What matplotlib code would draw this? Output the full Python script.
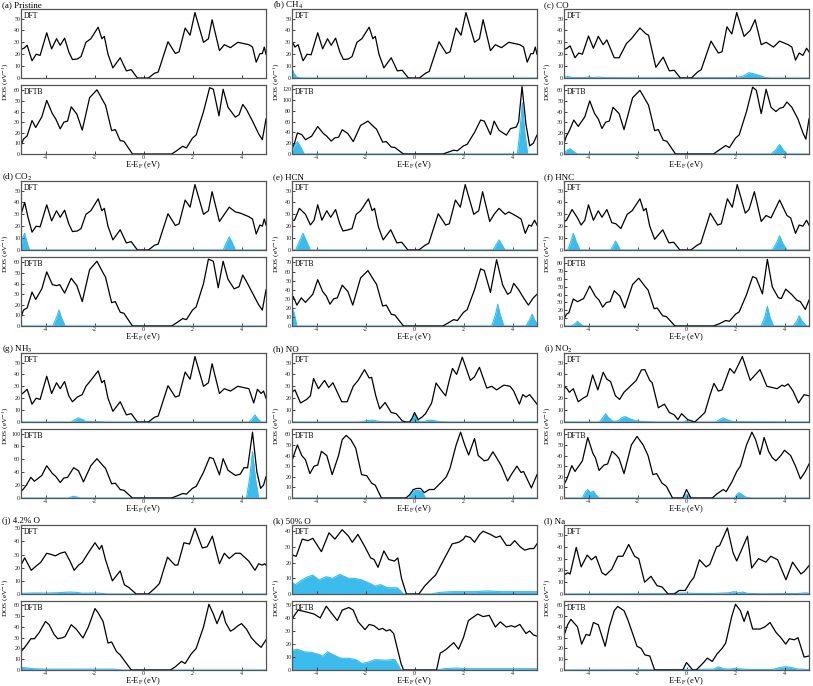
import numpy as np
import matplotlib.pyplot as plt

plt.rcParams['font.family'] = ['Liberation Serif', 'DejaVu Serif']
plt.rcParams['mathtext.fontset'] = 'stix'
plt.rcParams['axes.unicode_minus'] = False

BLUE = '#3cbcec'

# ---- DOS curves: (energy eV, DOS eV^-1) ----
a_dft = [(-5,24),(-4.88,25),(-4.75,27.5),(-4.55,14.5),(-4.38,20),(-4.22,19),(-3.95,38),(-3.75,24.5),(-3.55,33),(-3.4,27.5),(-3.22,33.5),(-3.05,22),(-2.9,15.5),(-2.7,16),(-2.55,18),(-2.35,30),(-2.15,33),(-1.85,42.7),(-1.7,33),(-1.6,35),(-1.45,20),(-1.25,8.5),(-0.95,17),(-0.7,6),(-0.5,7),(-0.25,0),(0.2,0),(0.45,4),(0.6,5),(1.0,30.5),(1.3,20.6),(1.45,22),(1.7,42),(1.9,36),(2.1,55),(2.45,30),(2.65,33),(2.8,49),(3.1,23),(3.3,28),(3.55,25.5),(3.85,30),(4.3,28),(4.45,26),(4.6,13.3),(4.75,20.5),(4.85,20.5),(4.93,26),(5.0,20)]
a_dftb = [(-5,8),(-4.9,14),(-4.75,17),(-4.55,31.5),(-4.4,25),(-4.15,35),(-3.95,50.5),(-3.72,38),(-3.58,33),(-3.4,23.7),(-3.25,30),(-3.1,31),(-2.95,44.5),(-2.72,37.5),(-2.5,22.5),(-2.2,53),(-1.9,60.5),(-1.65,50),(-1.55,46),(-1.3,22),(-1.15,23),(-0.95,12.6),(-0.8,12),(-0.45,0),(1.15,0),(1.35,3),(1.6,7.3),(1.75,5.7),(2.0,15),(2.15,18),(2.45,40),(2.7,62.5),(2.85,61),(3.08,36),(3.25,61),(3.45,44),(3.75,34.7),(3.9,37),(4.05,46.7),(4.2,42),(4.45,31),(4.7,19),(4.85,13.5),(5.0,33)]

b_dft = [(-5,31),(-4.88,26),(-4.75,28),(-4.55,14.5),(-4.38,20),(-4.22,19.5),(-3.95,38),(-3.75,24.5),(-3.55,33),(-3.4,27.5),(-3.22,33.5),(-3.05,22),(-2.9,15.5),(-2.7,16),(-2.55,18),(-2.35,30),(-2.15,33),(-1.85,42.7),(-1.7,33),(-1.6,35),(-1.45,20),(-1.25,8.5),(-0.95,17),(-0.7,6),(-0.5,6.5),(-0.25,0),(0.2,0),(0.45,4),(0.6,5.5),(1.0,30.5),(1.3,20.6),(1.45,22),(1.7,42),(1.9,36),(2.1,55),(2.45,30),(2.65,33),(2.8,49),(3.1,23),(3.3,28),(3.55,25.5),(3.85,30),(4.3,28),(4.45,26),(4.6,13.3),(4.75,20.5),(4.85,20.5),(4.93,26),(5.0,20)]
b_dft_ads = [(-5,8),(-4.92,4),(-4.8,0.5),(-4.6,0),(5,0)]
b_dftb = [(-5,10),(-4.9,20),(-4.78,39),(-4.6,36),(-4.45,26.5),(-4.2,33),(-3.95,51),(-3.72,38),(-3.58,33),(-3.4,24),(-3.25,30),(-3.1,31),(-2.95,45),(-2.72,38),(-2.5,23),(-2.2,53),(-1.9,61),(-1.65,50),(-1.55,46),(-1.3,22),(-1.15,23),(-0.95,13),(-0.8,12),(-0.45,0),(1.15,0),(1.35,3),(1.6,7),(1.75,6),(2.0,15),(2.15,18),(2.45,40),(2.7,63),(2.85,61),(3.1,36),(3.25,61),(3.45,44),(3.75,35),(3.92,47),(4.15,50),(4.25,60),(4.39,125),(4.55,55),(4.7,15),(4.85,20),(5.0,35)]
b_dftb_ads = [(-5,5),(-4.9,15),(-4.78,23),(-4.65,13),(-4.5,0),(4.2,0),(4.3,40),(4.4,95),(4.5,40),(4.62,0),(5,0)]

c_dft = [(-5,24),(-4.88,25),(-4.75,27),(-4.55,17),(-4.4,21),(-4.25,20),(-4.0,35.3),(-3.8,25),(-3.6,35),(-3.4,28),(-3.25,32),(-2.95,17),(-2.75,17),(-2.45,29),(-2.25,33),(-1.9,42),(-1.65,37),(-1.55,36),(-1.25,9),(-0.95,17.5),(-0.7,6),(-0.5,6.5),(-0.25,0),(0.2,0),(0.45,5),(0.6,7),(1.0,31),(1.3,21),(1.45,22),(1.65,43),(1.85,37),(2.05,55),(2.35,35),(2.6,40),(2.8,49),(3.05,28),(3.25,30),(3.55,26),(3.8,31),(4.15,28),(4.3,26),(4.45,15),(4.6,21),(4.75,19),(4.9,25),(5.0,22)]
c_dft_ads = [(-5,0.5),(-4.85,1.2),(-4.6,0.3),(-4.2,0.3),(-4.0,0.8),(-3.8,0.3),(-3.6,0.8),(-3.3,0.3),(-2.0,0.2),(2.0,0.3),(2.3,1.5),(2.55,4.5),(2.75,3.5),(3.0,2),(3.2,0.5),(3.4,0),(5,0)]
c_dftb = [(-5,10),(-4.9,17),(-4.78,22),(-4.6,32),(-4.42,26),(-4.15,35),(-3.95,50),(-3.75,38),(-3.6,33),(-3.45,24),(-3.3,30),(-3.15,31),(-3.0,44),(-2.75,38),(-2.55,23),(-2.2,53),(-1.9,60),(-1.65,50),(-1.55,46),(-1.3,22),(-1.15,23),(-0.95,13),(-0.8,12),(-0.45,0),(1.1,0),(1.35,4),(1.6,8),(1.75,6),(2.0,15),(2.15,18),(2.45,40),(2.7,63),(2.85,60),(3.05,38),(3.25,61),(3.45,44),(3.65,40),(3.8,43),(3.95,44),(4.1,49),(4.3,44),(4.55,33),(4.75,20),(4.87,14),(5.0,33)]
c_dftb_ads = [(-5,1),(-4.85,4),(-4.75,5),(-4.6,2),(-4.45,0),(3.45,0),(3.65,4),(3.8,9),(3.95,4),(4.1,0),(5,0)]

d_dft = [(-5,30),(-4.85,40),(-4.72,28),(-4.55,15),(-4.38,20),(-4.22,19.5),(-3.95,38),(-3.75,24.5),(-3.55,33),(-3.4,27.5),(-3.22,33.5),(-3.05,22),(-2.9,15.5),(-2.7,16),(-2.55,18),(-2.35,30),(-2.15,33),(-1.85,43),(-1.7,33),(-1.6,35),(-1.45,20),(-1.25,8.5),(-0.95,17),(-0.7,6),(-0.5,7),(-0.25,0),(0.2,0),(0.45,4),(0.6,5),(1.0,30.5),(1.3,20.6),(1.45,22),(1.7,42),(1.9,36),(2.1,55),(2.45,30),(2.65,33),(2.8,49),(3.1,24),(3.3,30),(3.5,36),(3.75,32),(3.95,31),(4.3,28),(4.45,26),(4.6,13.5),(4.75,21),(4.85,20),(4.93,26),(5.0,21)]
d_dft_ads = [(-5,3),(-4.92,11),(-4.85,14),(-4.75,6),(-4.65,0),(3.25,0),(3.4,7),(3.5,11),(3.6,7),(3.75,0),(5,0)]
d_dftb = [(-5,8),(-4.9,15),(-4.75,17),(-4.55,32),(-4.4,25),(-4.15,35),(-3.95,51),(-3.72,39),(-3.55,38),(-3.42,39),(-3.22,31),(-2.95,45),(-2.72,38),(-2.5,23),(-2.2,53),(-1.9,61),(-1.65,50),(-1.55,46),(-1.3,22),(-1.15,23),(-0.95,13),(-0.8,12),(-0.45,0),(1.15,0),(1.35,3),(1.6,7),(1.75,6),(2.0,15),(2.15,18),(2.45,40),(2.65,63),(2.85,61),(3.05,36),(3.25,61),(3.45,44),(3.7,35),(3.9,37),(4.05,48),(4.2,42),(4.45,31),(4.7,20),(4.85,15),(5.0,34)]
d_dftb_ads = [(-5,0),(-3.7,0),(-3.55,8),(-3.45,15),(-3.35,8),(-3.2,0),(5,0)]

e_dft = [(-5,25),(-4.9,25),(-4.7,35),(-4.45,30),(-4.25,21),(-4.1,25),(-3.95,38),(-3.78,25),(-3.58,33),(-3.42,27.5),(-3.22,34),(-3.05,22),(-2.92,16),(-2.7,17),(-2.55,18),(-2.38,30),(-2.2,33),(-1.88,43),(-1.73,33),(-1.63,35),(-1.48,20),(-1.28,8.5),(-0.97,17),(-0.72,6),(-0.52,6.5),(-0.27,0),(0.18,0),(0.43,4),(0.58,5.5),(0.97,30.5),(1.27,21),(1.42,22),(1.67,42),(1.87,36),(2.07,55),(2.42,30),(2.62,33),(2.78,49),(3.07,24),(3.25,30),(3.45,35),(3.7,30),(3.85,32),(4.2,28),(4.35,26),(4.52,14),(4.67,21),(4.77,20),(4.9,25),(5.0,21)]
e_dft_ads = [(-5,0),(-4.85,0),(-4.7,7),(-4.55,14),(-4.4,7),(-4.25,0),(3.2,0),(3.35,5),(3.45,8.5),(3.55,5),(3.7,0),(5,0)]
e_dftb = [(-5,28),(-4.95,32.5),(-4.8,23),(-4.62,31),(-4.45,26),(-4.15,35),(-3.95,51),(-3.75,38),(-3.6,33),(-3.45,24),(-3.3,30),(-3.15,31),(-2.95,45),(-2.72,38),(-2.52,23),(-2.2,53),(-1.9,61),(-1.65,50),(-1.55,46),(-1.3,22),(-1.15,23),(-0.95,13),(-0.8,12),(-0.45,0),(1.15,0),(1.35,3),(1.6,7),(1.75,6),(2.0,15),(2.15,18),(2.45,40),(2.7,63),(2.85,61),(3.1,37),(3.35,73),(3.6,45),(3.8,35),(3.92,37),(4.05,47),(4.25,40),(4.45,31),(4.65,23),(4.85,31),(5.0,35)]
e_dftb_ads = [(-5,20),(-4.92,15),(-4.8,0),(3.15,0),(3.3,12),(3.4,24),(3.5,12),(3.65,0),(4.55,0),(4.7,7),(4.8,13),(4.9,7),(5.0,2)]

f_dft = [(-5,24),(-4.9,25),(-4.67,34),(-4.45,27),(-4.3,21),(-4.15,25),(-4.0,38),(-3.8,25),(-3.6,33),(-3.45,27.5),(-3.25,34),(-3.05,23),(-2.88,22),(-2.68,18),(-2.42,30),(-2.22,33),(-1.9,43),(-1.75,33),(-1.65,35),(-1.5,20),(-1.3,9),(-0.97,17),(-0.72,6),(-0.52,6.5),(-0.27,0),(0.18,0),(0.43,4),(0.58,5.5),(0.97,31),(1.27,21),(1.42,22),(1.67,43),(1.87,36),(2.07,55),(2.4,31),(2.55,34),(2.77,49),(3.05,24),(3.25,29),(3.45,27),(3.8,42),(4.1,29),(4.25,27),(4.45,14),(4.6,21),(4.75,20),(4.9,25),(5.0,21)]
f_dft_ads = [(-5,0),(-4.85,0),(-4.72,7),(-4.62,14),(-4.5,7),(-4.35,0),(-3.1,0),(-2.98,4),(-2.9,7.5),(-2.8,4),(-2.7,0),(3.5,0),(3.68,6),(3.8,12),(3.92,6),(4.1,0),(5,0)]
f_dftb = [(-5,9),(-4.9,15),(-4.8,17),(-4.62,34.5),(-4.45,31),(-4.2,35),(-3.95,51),(-3.72,38),(-3.57,33),(-3.42,24),(-3.27,30),(-3.12,31),(-2.95,45),(-2.72,38),(-2.52,23),(-2.2,53),(-1.95,61),(-1.68,50),(-1.57,46),(-1.32,22),(-1.2,23),(-0.97,13),(-0.82,12),(-0.47,0),(1.1,0),(1.35,3),(1.6,7),(1.75,6),(2.0,15),(2.15,18),(2.45,40),(2.7,63),(2.85,61),(3.1,41),(3.3,85),(3.5,50),(3.75,36),(3.87,35),(4.05,47),(4.3,40),(4.5,33),(4.65,31),(4.85,21),(5.0,33)]
f_dftb_ads = [(-5,0),(-4.7,0),(-4.55,3),(-4.45,6),(-4.35,3),(-4.2,0),(3.05,0),(3.2,12),(3.3,25),(3.4,12),(3.55,0),(4.35,0),(4.5,6),(4.6,13),(4.72,6),(4.9,0),(5,0)]

g_dft = [(-5,23),(-4.88,25),(-4.75,27.5),(-4.55,15),(-4.38,20),(-4.22,19),(-3.95,38.5),(-3.75,24),(-3.55,33),(-3.4,28),(-3.22,34),(-3.05,22),(-2.9,17),(-2.7,21),(-2.5,23),(-2.35,30),(-2.15,35),(-1.85,43),(-1.7,33),(-1.6,35),(-1.45,20),(-1.25,9),(-0.95,17),(-0.7,6),(-0.5,7),(-0.25,0),(0.2,0),(0.45,4),(0.6,5),(1.0,30.5),(1.3,21),(1.45,22),(1.7,42),(1.9,36),(2.1,55),(2.45,30),(2.65,33),(2.8,49),(3.1,24),(3.3,28),(3.55,26),(3.85,30),(4.3,28),(4.4,22),(4.5,16),(4.65,27.5),(4.8,24),(4.9,26),(5.0,20)]
g_dft_ads = [(-5,0),(-2.95,0),(-2.8,2),(-2.65,3.5),(-2.5,2),(-2.35,0.5),(-1.8,0.3),(-1.5,0),(4.3,0),(4.45,3),(4.55,6),(4.65,3),(4.8,0),(5,0)]
g_dftb = [(-5,10),(-4.9,14),(-4.78,20),(-4.6,32),(-4.45,26),(-4.15,35),(-3.95,50),(-3.72,38),(-3.57,33),(-3.4,24),(-3.25,31),(-3.1,32),(-2.85,47),(-2.65,42),(-2.45,25),(-2.15,50),(-1.9,61),(-1.65,50),(-1.55,46),(-1.3,22),(-1.15,23),(-0.95,13),(-0.8,12),(-0.45,0),(1.15,0),(1.35,3),(1.6,7),(1.75,6),(2.0,15),(2.15,18),(2.45,40),(2.7,63),(2.85,61),(3.1,36),(3.25,61),(3.45,43),(3.75,35),(3.95,37),(4.1,47),(4.25,47),(4.45,102),(4.63,40),(4.78,15),(4.9,20),(5.0,33)]
g_dftb_ads = [(-5,0),(-3.05,0),(-2.9,2.5),(-2.8,2.5),(-2.6,0),(4.2,0),(4.33,30),(4.45,72),(4.57,30),(4.7,0),(5,0)]

h_dft = [(-5,25),(-4.88,27),(-4.65,16),(-4.4,19),(-4.25,22),(-4.12,36.5),(-3.92,28),(-3.67,35),(-3.5,29),(-3.33,33),(-2.97,17),(-2.75,17),(-2.5,30),(-2.3,35),(-2.04,44),(-1.85,37),(-1.75,37.5),(-1.58,22),(-1.42,11),(-1.2,16.4),(-0.95,8),(-0.75,7),(-0.5,1),(-0.35,0),(-0.2,0),(-0.1,3),(0.0,8),(0.15,2),(0.3,4),(0.45,7),(0.7,16),(0.88,32.8),(1.08,27),(1.27,22),(1.42,35),(1.55,45),(1.72,40),(1.95,54.5),(2.28,35),(2.45,38),(2.65,46),(2.95,28.5),(3.15,30),(3.35,27),(3.65,31),(3.9,30),(4.05,26),(4.28,15),(4.42,23),(4.55,21),(4.7,23),(5.0,15)]
h_dft_ads = [(-5,0),(-2.2,0),(-1.9,1.2),(-1.7,1.5),(-1.4,0.3),(-0.2,0),(-0.1,3),(0.0,7),(0.1,3),(0.2,0),(0.4,0.5),(0.6,1.5),(0.8,1.2),(1.0,0.3),(1.3,0),(5,0)]
h_dftb = [(-5,35),(-4.9,42),(-4.78,50),(-4.6,40),(-4.45,36),(-4.27,23),(-4.1,30),(-3.95,31),(-3.8,44),(-3.58,40),(-3.36,22),(-3.1,40),(-2.95,55),(-2.79,59),(-2.6,55),(-2.4,47),(-2.16,22),(-1.95,21),(-1.75,14),(-1.6,12),(-1.35,0),(-0.35,0),(-0.2,3),(-0.05,8),(0.1,9),(0.25,9),(0.4,5),(0.6,8),(0.8,8),(1.1,15),(1.3,20),(1.45,28),(1.7,50),(1.88,62),(2.05,50),(2.21,40.5),(2.45,56),(2.6,40),(2.85,35),(3.0,36),(3.2,43.5),(3.35,38),(3.55,30),(3.8,16),(3.95,22),(4.18,30),(4.35,24),(4.45,25),(4.77,9.5),(5.0,22)]
h_dftb_ads = [(-5,0),(-0.22,0),(-0.1,5),(0.0,7),(0.2,7),(0.32,5.5),(0.45,0),(5,0)]

i_dft = [(-5,30),(-4.88,28),(-4.78,25),(-4.62,28),(-4.42,17),(-4.22,20),(-4.05,22),(-3.83,39.5),(-3.62,27),(-3.4,41.8),(-3.25,36),(-3.1,34),(-2.9,22),(-2.73,19),(-2.55,25),(-2.3,30),(-2.05,35),(-1.84,43.8),(-1.7,44),(-1.5,35),(-1.4,33),(-1.15,12),(-0.9,15),(-0.7,8),(-0.5,6),(-0.35,2),(-0.2,7),(0.05,2),(0.34,0),(0.6,5),(0.75,8),(0.95,22),(1.12,32.5),(1.3,26),(1.45,27),(1.77,45),(1.95,41),(2.28,55),(2.6,35),(3.0,44),(3.28,30),(3.5,29),(3.7,28),(3.9,31),(4.0,30),(4.15,32),(4.35,26),(4.57,16),(4.8,23),(5.0,22)]
i_dft_ads = [(-5,0),(-3.55,0),(-3.4,4),(-3.3,7),(-3.2,4),(-3.0,0.5),(-2.8,1),(-2.6,4),(-2.5,4.5),(-2.35,3),(-2.1,1.2),(-1.8,0.4),(-1.2,0),(-0.1,0),(0.0,1.2),(0.1,0),(1.2,0),(1.35,2),(1.5,3.5),(1.65,2),(1.9,0.3),(5,0)]
i_dftb = [(-5,13),(-4.9,17),(-4.68,30.5),(-4.55,25),(-4.25,35),(-4.03,57),(-3.82,42),(-3.72,38),(-3.57,26),(-3.37,31),(-3.22,32),(-3.04,44),(-2.85,40),(-2.75,37),(-2.55,23),(-2.25,50),(-2.02,58),(-1.77,50),(-1.57,40),(-1.37,22),(-1.22,23),(-1.0,14),(-0.82,11),(-0.57,0),(-0.15,0),(0.0,8),(0.18,0),(1.05,0),(1.25,4),(1.5,8),(1.62,6),(1.85,15),(2.05,25),(2.2,30),(2.45,50),(2.67,62),(2.82,55),(3.0,41),(3.17,57),(3.35,44),(3.5,38),(3.65,35),(3.85,40),(4.0,45),(4.25,40),(4.45,30),(4.65,18),(4.85,25),(5.0,32)]
i_dftb_ads = [(-5,0),(-4.25,0),(-4.12,6),(-4.03,8),(-3.92,5),(-3.8,6.5),(-3.7,3),(-3.55,0),(-0.15,0),(-0.05,3),(0.0,3.5),(0.07,3),(0.15,0),(1.95,0),(2.08,4),(2.15,5),(2.28,3),(2.45,0.5),(2.7,0),(5,0)]

j_dft = [(-5,22),(-4.85,27.5),(-4.58,18),(-4.4,21),(-4.2,24),(-3.95,31),(-3.75,30),(-3.6,29),(-3.4,31),(-3.2,32),(-3.0,25),(-2.83,18),(-2.65,22),(-2.5,24),(-2.3,30),(-1.98,39),(-1.8,34),(-1.7,37),(-1.55,26),(-1.27,10),(-0.95,17.6),(-0.78,7),(-0.6,5),(-0.3,0),(0.2,0),(0.5,5),(0.65,8),(0.98,28),(1.28,22),(1.4,22),(1.65,39),(1.88,38),(2.1,50),(2.4,35),(2.6,36),(2.81,44),(3.1,23),(3.3,31),(3.5,27),(3.75,31),(3.95,31),(4.3,25),(4.55,18),(4.7,23),(4.85,22),(4.95,23),(5.0,22)]
j_dft_ads = [(-5,0.5),(-4.5,0.8),(-4,0.7),(-3.5,1),(-3.0,1.5),(-2.7,1.2),(-2.5,0.6),(-2.0,0.8),(-1.7,0.5),(-1.5,0),(5,0)]
j_dftb = [(-5,17),(-4.85,21),(-4.75,24),(-4.6,29),(-4.45,29),(-4.25,35),(-4.0,45),(-3.85,42),(-3.65,33),(-3.5,29),(-3.3,30),(-3.2,31),(-2.95,42),(-2.75,38),(-2.47,29.7),(-2.25,40),(-1.98,57),(-1.85,53),(-1.65,45),(-1.45,25),(-1.3,26),(-1.1,17),(-0.95,14),(-0.5,0),(1.1,0),(1.3,3),(1.55,8),(1.7,6),(1.95,15),(2.15,20),(2.45,40),(2.67,61),(2.85,52),(3.0,43),(3.22,55),(3.35,44),(3.55,36),(3.7,38),(3.85,41),(4.0,43),(4.2,38),(4.4,30),(4.6,25),(4.8,21),(5.0,28)]
j_dftb_ads = [(-5,2.5),(-4.8,2),(-4.5,1.2),(-4.0,0.8),(-3,0.8),(-2,0.8),(-1.2,0.8),(-0.9,0),(5,0)]

k_dft = [(-5,25),(-4.83,24),(-4.58,35),(-4.35,34),(-4.15,35.5),(-3.8,27),(-3.49,39),(-3.25,35),(-2.95,41),(-2.7,37),(-2.54,33),(-2.31,38),(-2.02,30),(-1.79,23),(-1.65,22),(-1.49,17),(-1.25,27.5),(-1.05,22),(-0.82,21),(-0.68,23),(-0.53,10),(-0.33,0),(0.18,0),(0.41,5),(0.72,10),(0.86,12),(1.3,25),(1.54,32),(1.81,33),(2.0,35),(2.08,37),(2.28,36),(2.45,33),(2.66,38),(2.8,40),(3.1,38),(3.33,36),(3.5,37),(3.75,31),(3.91,31),(4.09,34),(4.32,30),(4.5,28),(4.73,29),(4.87,29),(5.0,32)]
k_dft_ads = [(-5,7),(-4.85,6),(-4.6,9),(-4.35,11),(-4.15,12),(-3.9,9),(-3.6,11),(-3.35,10),(-3.05,12.5),(-2.7,10),(-2.45,10),(-2.15,9),(-1.85,7),(-1.6,5),(-1.4,6),(-1.1,4),(-0.7,4),(-0.45,0),(0.7,0),(1.0,1),(1.5,1.5),(2.5,1.5),(3.0,2),(3.5,1.5),(5.0,1.5)]
k_dftb = [(-5,39),(-4.9,42),(-4.75,46),(-4.5,45),(-4.3,44),(-4.1,43),(-3.85,40),(-3.6,49),(-3.4,44),(-3.15,38),(-2.95,46),(-2.68,48),(-2.5,46),(-2.3,37),(-2.02,31),(-1.85,35),(-1.65,34),(-1.45,31),(-1.3,32),(-1.15,30),(-1.0,31),(-0.85,28),(-0.55,5),(-0.45,0),(0.9,0),(1.05,13),(1.15,14),(1.3,16),(1.6,21),(1.8,16),(2.0,25),(2.2,38),(2.58,43),(2.8,41),(3.05,42),(3.3,33),(3.5,37),(3.75,33),(3.95,34),(4.1,33),(4.3,35),(4.55,28),(4.7,30),(4.85,27),(5.0,26)]
k_dftb_ads = [(-5,15),(-4.8,16),(-4.5,14),(-4.2,13.5),(-3.9,12),(-3.75,10.5),(-3.55,14),(-3.35,12),(-3.0,9),(-2.7,9),(-2.4,8),(-2.15,5),(-1.9,6),(-1.6,8),(-1.2,7.5),(-0.9,8),(-0.8,8),(-0.55,0),(0.9,0),(1.2,1),(1.7,1.5),(2.2,1),(5.0,1)]

l_dft = [(-5,16),(-4.85,18),(-4.75,17),(-4.5,39.5),(-4.3,23),(-4.05,33),(-3.88,29),(-3.7,32),(-3.45,18),(-3.3,16),(-3.05,21),(-2.8,32),(-2.6,32),(-2.36,42),(-2.12,32),(-1.95,30),(-1.71,10),(-1.45,15),(-1.2,7),(-1.0,6),(-0.75,0),(-0.5,0),(-0.3,3),(-0.05,3),(0.15,10),(0.3,14),(0.53,29),(0.8,23),(0.95,25),(1.23,40),(1.35,41),(1.67,56),(1.9,35),(2.05,28),(2.3,40),(2.49,49),(2.66,22),(2.94,30),(3.24,27),(3.44,32),(3.72,29),(4.06,12),(4.33,27),(4.67,17),(4.8,19),(5.0,24)]
l_dft_ads = [(-5,0),(-0.8,0.3),(-0.5,0.6),(0,0.8),(0.3,0.5),(1.0,0.4),(1.7,1),(1.95,2),(2.1,1),(2.3,1.6),(2.5,0.5),(3,0.2),(4.5,0.4),(4.9,1),(5,0.5)]
l_dftb = [(-5,32),(-4.85,42),(-4.72,47),(-4.45,40),(-4.28,24),(-4.1,33),(-3.95,32),(-3.8,44),(-3.6,42),(-3.32,22),(-3.15,40),(-2.95,55),(-2.81,59),(-2.55,55),(-2.4,47),(-2.02,22),(-1.85,20),(-1.7,14),(-1.5,13),(-1.3,0),(-0.15,0),(0.0,7),(0.25,0),(0.4,0),(0.7,7),(0.85,11),(1.05,8),(1.25,15),(1.45,20),(1.6,25),(1.85,50),(2.0,61),(2.2,55),(2.35,45),(2.5,54.6),(2.7,38),(3.0,38),(3.2,40),(3.41,44),(3.65,35),(3.85,30),(4.05,24),(4.2,29),(4.4,28),(4.55,30),(4.8,12),(5.0,13)]
l_dftb_ads = [(-5,0),(-0.2,0.5),(0.1,0.5),(1.1,0.8),(1.3,3),(1.5,1.2),(1.7,0.8),(2.0,1.5),(2.5,0.5),(3.5,0.5),(3.85,2.5),(4.05,3),(4.25,2.5),(4.5,1),(5,0.5)]

titles = ['(a) Pristine', '(b) CH$_4$', '(c) CO', '(d) CO$_2$', '(e) HCN', '(f) HNC',
          '(g) NH$_3$', '(h) NO', '(i) NO$_2$', '(j) 4.2% O', '(k) 50% O', '(l) Na']

# (title, DFT curve, DFT adsorbate, DFT ymax, DFTB curve, DFTB adsorbate, DFTB ymax, DFTB tick step)
panels = [
    (titles[0], a_dft, None, 58, a_dftb, None, 65, 10),
    (titles[1], b_dft, b_dft_ads, 58, b_dftb, b_dftb_ads, 128, 20),
    (titles[2], c_dft, c_dft_ads, 58, c_dftb, c_dftb_ads, 65, 10),
    (titles[3], d_dft, d_dft_ads, 58, d_dftb, d_dftb_ads, 65, 10),
    (titles[4], e_dft, e_dft_ads, 58, e_dftb, e_dftb_ads, 76, 10),
    (titles[5], f_dft, f_dft_ads, 58, f_dftb, f_dftb_ads, 88, 10),
    (titles[6], g_dft, g_dft_ads, 58, g_dftb, g_dftb_ads, 107, 20),
    (titles[7], h_dft, h_dft_ads, 58, h_dftb, h_dftb_ads, 65, 10),
    (titles[8], i_dft, i_dft_ads, 58, i_dftb, i_dftb_ads, 65, 10),
    (titles[9], j_dft, j_dft_ads, 52.5, j_dftb, j_dftb_ads, 64, 10),
    (titles[10], k_dft, k_dft_ads, 44, k_dftb, k_dftb_ads, 53, 10),
    (titles[11], l_dft, l_dft_ads, 58.5, l_dftb, l_dftb_ads, 64, 10),
]

W, H = 813, 686
fig = plt.figure(figsize=(W / 100, H / 100), dpi=100)


def box(left, top, width, height):
    return [left / W, 1 - (top + height) / H, width / W, height / H]


def draw(ax, curve, ads, ymax, step, tag, bottom):
    if ads is not None:
        px, py = np.array(ads).T
        ax.fill_between(px, py, 0, color=BLUE, lw=0)
        ax.plot(px, py, color=BLUE, lw=0.8)
    x, y = np.array(curve).T
    ax.plot(x, y, color='black', lw=0.9, solid_joinstyle='round')
    ax.set_xlim(-5, 5)
    ax.set_ylim(0, ymax)
    ax.set_yticks(np.arange(0, ymax, step))
    ax.set_xticks([-4, -2, 0, 2, 4])
    ax.tick_params(direction='in', length=2, width=0.6, labelsize=4.3, pad=0.6,
                   labelbottom=bottom, colors='#222222')
    for s in ax.spines.values():
        s.set_color('#555555')
        s.set_linewidth(0.9)
    ax.text(0.012, 0.95, tag, transform=ax.transAxes, fontsize=5.5, va='top', ha='left')


col_x = [0, 271, 542]
ax_left = [21, 292, 564]
for i, (title, dft, dft_ads, ymax1, dftb, dftb_ads, ymax2, step2) in enumerate(panels):
    r, c = divmod(i, 3)
    oy = 172 * r
    ox = col_x[c]
    ax1 = fig.add_axes(box(ax_left[c], oy + 9, 245, 69))
    ax2 = fig.add_axes(box(ax_left[c], oy + 85, 245, 69))
    draw(ax1, dft, dft_ads, ymax1, 10, 'DFT', False)
    draw(ax2, dftb, dftb_ads, ymax2, step2, 'DFTB', True)
    fig.text((ox + 2) / W, 1 - (oy + 5) / H, title, fontsize=6.5, va='center', ha='left')
    fig.text((ox + 0.1) / W, 1 - (oy + 82) / H, 'DOS (eV$^{-1}$)', fontsize=5.3,
             rotation=90, va='center', ha='left')
    fig.text((ax_left[c] + 122) / W, 1 - (oy + 165) / H, 'E-E$_\\mathrm{F}$ (eV)',
             fontsize=6, va='center', ha='center')

fig.savefig('out.png', dpi=100)
